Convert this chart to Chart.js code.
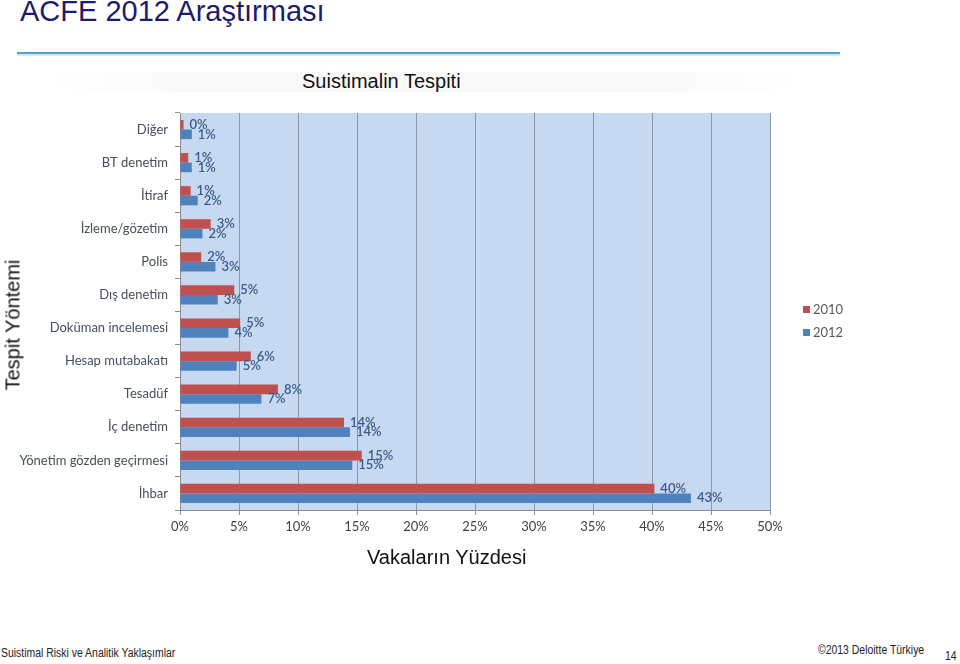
<!DOCTYPE html>
<html>
<head>
<meta charset="utf-8">
<script src="https://cdn.jsdelivr.net/npm/chart.js@4/dist/chart.umd.min.js"></script>
<style>
  body { margin: 0; background: #fff; width: 960px; height: 664px; overflow: hidden; position: relative; font-family: "Liberation Sans", Arial, sans-serif; }
  #chartWrap { position: absolute; left: 0; top: 0; width: 960px; height: 600px; }
  .txt { position: absolute; white-space: nowrap; }
  #pageTitle { left: 20px; top: -5px; font-size: 29px; color: #1c1c6b; }
  #rule { position: absolute; left: 17px; top: 52px; width: 823px; height: 2px; background: #5aa0cf; }
  #rule2 { position: absolute; left: 17px; top: 54px; width: 823px; height: 2px; background: #d8e9f5; }
  #shade { position: absolute; left: 50px; top: 72px; width: 752px; height: 20px; background: linear-gradient(to right, #fff, #f9f9f9 20%, #f9f9f9 80%, #fff); }
  #chartTitle { left: 302px; top: 70px; font-size: 20px; color: #111; }
  #xTitle { left: 367px; top: 546px; font-size: 20px; color: #111; }
  #yTitle { left: 13px; top: 325px; font-size: 20px; color: #111; transform: translate(-50%, -50%) rotate(-90deg); }
  .foot { font-size: 12px; color: #222; transform: scaleX(0.87); transform-origin: left center; }
  #foot1 { left: 1px; top: 646px; }
  #foot2 { left: 818px; top: 643px; }
  #foot3 { left: 945px; top: 649px; }
</style>
</head>
<body>
<div id="shade"></div>
<div class="txt" id="pageTitle">ACFE 2012 Araştırması</div>
<div id="rule"></div>
<div id="rule2"></div>
<div class="txt" id="chartTitle">Suistimalin Tespiti</div>
<div id="chartWrap"><canvas id="chart"></canvas></div>
<div class="txt" id="xTitle">Vakaların Yüzdesi</div>
<div class="txt" id="yTitle">Tespit Yöntemi</div>
<div class="txt foot" id="foot1">Suistimal Riski ve Analitik Yaklaşımlar</div>
<div class="txt foot" id="foot2">©2013 Deloitte Türkiye</div>
<div class="txt foot" id="foot3">14</div>

<script>
const categories = [
    "Diğer", "BT denetim", "İtiraf", "İzleme/gözetim", "Polis", "Dış denetim",
    "Doküman incelemesi", "Hesap mutabakatı", "Tesadüf", "İç denetim",
    "Yönetim gözden geçirmesi", "İhbar"
];
const values2010 = [0.3, 0.7, 0.9, 2.6, 1.8, 4.6, 5.1, 6.0, 8.3, 13.9, 15.4, 40.2];
const values2012 = [1.0, 1.0, 1.5, 1.9, 3.0, 3.2, 4.1, 4.8, 6.9, 14.4, 14.6, 43.3];
const xTicks = [0, 5, 10, 15, 20, 25, 30, 35, 40, 45, 50];

const plotBackground = {
    id: "plotBackground",
    beforeDraw(chart) {
        const {ctx, chartArea} = chart;
        ctx.save();
        ctx.fillStyle = "#c6d9f1";
        ctx.fillRect(chartArea.left, chartArea.top, chartArea.right - chartArea.left, chartArea.bottom - chartArea.top);
        ctx.restore();
    }
};

// value labels next to each bar end
const barLabels = {
    id: "barLabels",
    afterDatasetsDraw(chart) {
        const ctx = chart.ctx;
        ctx.save();
        ctx.font = "600 13px Lato";
        ctx.fillStyle = "#3a5a8c";
        ctx.textBaseline = "middle";
        ctx.textAlign = "left";
        chart.data.datasets.forEach((dataset, i) => {
            chart.getDatasetMeta(i).data.forEach((bar, j) => {
                ctx.fillText(Math.round(dataset.data[j]) + "%", bar.x + 6, bar.y);
            });
        });
        ctx.restore();
    }
};

const sideLegend = {
    id: "sideLegend",
    afterDraw(chart) {
        const ctx = chart.ctx;
        ctx.save();
        ctx.font = "13px Lato";
        ctx.textBaseline = "middle";
        chart.data.datasets.forEach((dataset, i) => {
            const y = 309 + i * 23;
            ctx.fillStyle = dataset.backgroundColor;
            ctx.fillRect(803, y - 3, 7, 7);
            ctx.fillStyle = "#595959";
            ctx.fillText(dataset.label, 813, y + 1);
        });
        ctx.restore();
    }
};

new Chart(document.getElementById("chart"), {
    type: "bar",
    data: {
        labels: categories,
        datasets: [
            {label: "2010", data: values2010, backgroundColor: "#c0504d"},
            {label: "2012", data: values2012, backgroundColor: "#4f81bd"}
        ]
    },
    options: {
        indexAxis: "y",
        responsive: true,
        maintainAspectRatio: false,
        animation: false,
        categoryPercentage: 0.58,
        barPercentage: 1.0,
        layout: {padding: {top: 113, right: 190, bottom: 0, left: 0}},
        plugins: {
            legend: {display: false},
            tooltip: {enabled: false}
        },
        scales: {
            x: {
                min: 0,
                max: 50,
                afterFit: (scale) => { scale.height = 90; },
                afterBuildTicks: (scale) => { scale.ticks = xTicks.map(v => ({value: v})); },
                ticks: {
                    callback: (v) => v + "%",
                    font: {family: "Lato", size: 13},
                    color: "#404040",
                    padding: 4
                },
                grid: {color: "#8a98ab", lineWidth: 1, tickLength: 5, tickColor: "#8c8c8c"},
                border: {color: "#8c8c8c"}
            },
            y: {
                afterFit: (scale) => { scale.width = 180; },
                ticks: {
                    font: {family: "Lato", size: 13},
                    color: "#44505e",
                    padding: 7
                },
                grid: {drawOnChartArea: false, tickLength: 5, tickColor: "#8c8c8c"},
                border: {color: "#8c8c8c"}
            }
        }
    },
    plugins: [plotBackground, barLabels, sideLegend]
});
</script>
</body>
</html>
